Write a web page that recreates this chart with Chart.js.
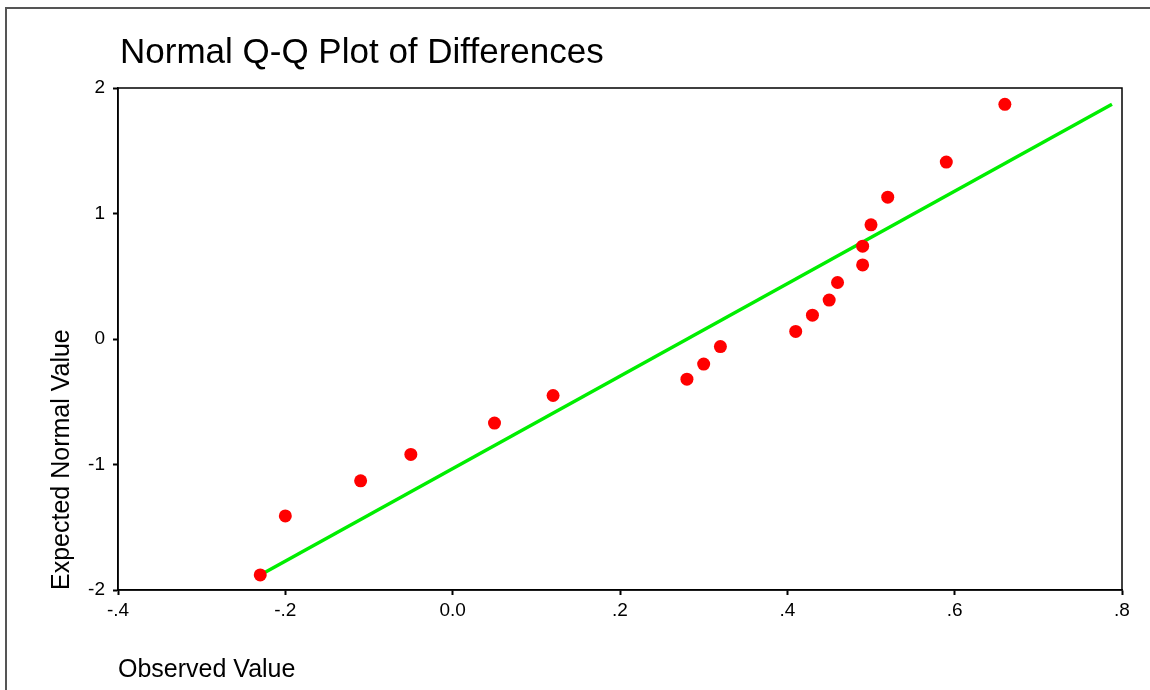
<!DOCTYPE html>
<html>
<head>
<meta charset="utf-8">
<script src="https://cdn.jsdelivr.net/npm/chart.js@4/dist/chart.umd.min.js"></script>
<style>
  html,body{margin:0;padding:0;background:#fff;}
  #wrap{width:1150px;height:690px;position:relative;}
</style>
</head>
<body>
<div id="wrap"><canvas id="qq"></canvas></div>
<script>
// ====== dados ======
const chartTitle = 'Normal Q-Q Plot of Differences';
const observed = [-0.23, -0.20, -0.11, -0.05, 0.05, 0.12, 0.28, 0.30, 0.32, 0.41, 0.43, 0.45, 0.46, 0.49, 0.49, 0.50, 0.52, 0.59, 0.66];
const expected = [-1.88, -1.41, -1.13, -0.92, -0.67, -0.45, -0.32, -0.20, -0.06, 0.06, 0.19, 0.31, 0.45, 0.59, 0.74, 0.91, 1.13, 1.41, 1.87];
const lineX = [-0.23, 0.788];
const lineY = [-1.88, 1.87];
const xTicks = [-0.4, -0.2, 0.0, 0.2, 0.4, 0.6, 0.8];
const yTicks = [-2, -1, 0, 1, 2];

const FONT = '"Liberation Sans", Arial, sans-serif';
Chart.defaults.font.family = FONT;
Chart.defaults.color = '#000';

// ====== formatação dos ticks ======
const fmtX = v => {
  const r = Math.round(v*10)/10;
  if (r === 0) return '0.0';
  return r.toFixed(1).replace('0.', '.');
};

// ====== moldura, título ======
const frame = {
  id: 'frame',
  beforeDraw(chart){
    const c = chart.ctx;
    c.save();
    c.strokeStyle = '#555';
    c.lineWidth = 2;
    c.beginPath();
    c.moveTo(6, 690); c.lineTo(6, 8); c.lineTo(1150, 8);
    c.stroke();
    c.fillStyle = '#000';
    c.font = '35px ' + FONT;
    c.textBaseline = 'alphabetic';
    c.fillText(chartTitle, 120, 63);
    c.restore();
  },
  afterDatasetsDraw(chart){
    const {left, top, right, bottom} = chart.chartArea;
    const c = chart.ctx;
    c.save();
    c.strokeStyle = '#000';
    c.lineWidth = 1.5;
    c.strokeRect(left, top, right-left, bottom-top);
    c.restore();
  }
};

new Chart(document.getElementById('qq'), {
  type: 'scatter',
  data: {
    datasets: [
      {
        label: 'Observed',
        data: observed.map((x,i)=>({x, y: expected[i]})),
        backgroundColor: '#ff0000',
        borderWidth: 0,
        pointRadius: 6.5,
        order: 1
      },
      {
        type: 'line',
        label: 'Normal',
        data: lineX.map((x,i)=>({x, y: lineY[i]})),
        borderColor: '#00ee00',
        borderWidth: 3.5,
        pointRadius: 0,
        fill: false,
        order: 2
      }
    ]
  },
  options: {
    responsive: true,
    maintainAspectRatio: false,
    animation: false,
    layout: { padding: { top: 88, right: 28, bottom: 0, left: 0 } },
    plugins: {
      legend: { display: false },
      tooltip: { enabled: false },
      title: { display: false }
    },
    scales: {
      x: {
        type: 'linear',
        min: -0.4, max: 0.8,
        afterBuildTicks: s => { s.ticks = xTicks.map(v=>({value:v})); },
        afterFit: s => { s.height = 100; },
        ticks: { callback: fmtX, padding: 4, font: { size: 19 }, maxRotation: 0 },
        grid: { display: true, drawOnChartArea: false, drawTicks: true, tickLength: 5, tickColor: '#000', tickWidth: 2 },
        border: { display: true, color: '#000', width: 1.5 },
        title: { display: true, text: 'Observed Value', align: 'start', font: { size: 25 }, padding: { top: 0, bottom: 5 } }
      },
      y: {
        type: 'linear',
        min: -2, max: 2,
        afterBuildTicks: s => { s.ticks = yTicks.map(v=>({value:v})); },
        afterFit: s => { s.width = 118; },
        ticks: { callback: v => String(v), padding: 8, font: { size: 19 } },
        grid: { display: true, drawOnChartArea: false, drawTicks: true, tickLength: 5, tickColor: '#000', tickWidth: 2 },
        border: { display: true, color: '#000', width: 1.5 },
        title: { display: true, text: 'Expected Normal Value', align: 'start', font: { size: 25 }, padding: { top: 47, bottom: 0 } }
      }
    }
  },
  plugins: [frame]
});
</script>
</body>
</html>
